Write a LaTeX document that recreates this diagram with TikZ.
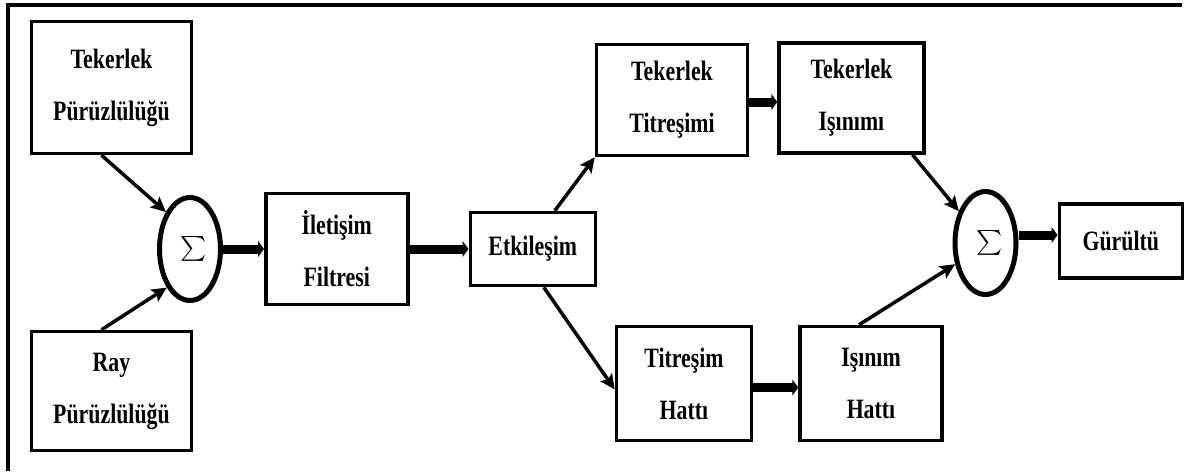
\documentclass[tikz,border=0pt]{standalone}
\usepackage{fontspec}
\setmainfont{Liberation Serif}[FakeStretch=0.78]
\usepackage{amsmath}
\usepackage{tikz}
\usetikzlibrary{positioning,arrows.meta,shapes.geometric}
\newcommand{\sumsign}{{\fontsize{36}{36}\selectfont$\textstyle\sum$}}
\begin{document}
\begin{tikzpicture}[x=1pt,y=1pt,
  font=\fontsize{28}{52}\selectfont\bfseries,
  box/.style={draw,line width=3.5pt,align=center,inner sep=0pt},
  adder/.style={draw,ellipse,line width=5pt,inner sep=0pt,minimum width=61pt,minimum height=103pt},
  arrow/.style={-{Stealth[length=15pt,width=14pt,inset=3pt]},line width=3.5pt},
  flow/.style={-{Triangle[length=6pt,width=16pt]},line width=9pt}]
\useasboundingbox (0,0) rectangle (1185,-471);
\draw[line width=3.5pt] (8,-471) -- (8,-5) -- (1182,-5);
\node[box,minimum width=160pt,minimum height=132pt] (tp) at (111.5,-87.5) {Tekerlek\\Pürüzlülüğü};
\node[box,minimum width=160pt,minimum height=119pt] (rp) at (111.5,-391) {Ray\\Pürüzlülüğü};
\node[adder] (s1) at (190,-249) {\hspace*{8pt}\sumsign};
\node[box,minimum width=142pt,minimum height=111pt,right=41pt of s1] (ifl) {İletişim\\Filtresi};
\node[box,minimum width=125pt,minimum height=73pt,right=59pt of ifl] (etk) {Etkileşim};
\node[box,minimum width=151pt,minimum height=111pt] (tt) at (672,-100) {Tekerlek\\Titreşimi};
\node[box,minimum width=145pt,minimum height=110pt,right=28pt of tt,yshift=2pt] (ti) {Tekerlek\\Işınımı};
\node[box,minimum width=135pt,minimum height=114pt] (th) at (684,-383.5) {Titreşim\\Hattı};
\node[box,minimum width=142pt,minimum height=114pt,right=45pt of th] (ih) {Işınım\\Hattı};
\node[adder] (s2) at (985.5,-243) {\hspace*{8pt}\sumsign};
\node[box,minimum width=123pt,minimum height=74pt,right=39pt of s2,yshift=2pt] (gur) {Gürültü};
\draw[arrow] ([xshift=-10pt]tp.south) -- (s1.123);
\draw[arrow] ([xshift=-10pt]rp.north) -- (s1.239);
\draw[flow] (s1.east) -- (s1.east -| ifl.west);
\draw[flow] (ifl.east) -- (ifl.east -| etk.west);
\draw[arrow] ([xshift=22pt]etk.north) -- (tt.south west);
\draw[arrow] ([xshift=11pt]etk.south) -- ([yshift=-6pt]th.west);
\draw[flow] ([yshift=-2pt]tt.east) -- ([yshift=-2pt]tt.east -| ti.west);
\draw[flow] ([yshift=-4pt]th.east) -- ([yshift=-4pt]th.east -| ih.west);
\draw[arrow] ([xshift=61pt]ti.south) -- (s2.130);
\draw[arrow] ([xshift=-12pt]ih.north) -- (s2.215);
\draw[flow] ([yshift=8pt]s2.east) -- ([yshift=8pt]s2.east -| gur.west);
\end{tikzpicture}
\end{document}
